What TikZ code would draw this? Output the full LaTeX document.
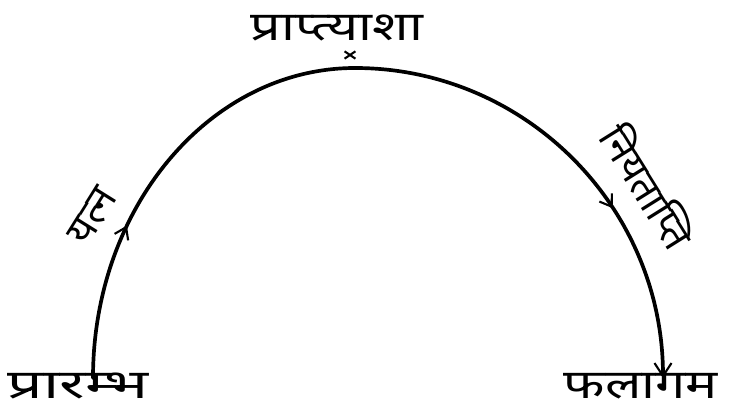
\documentclass[tikz,border=0pt]{standalone}
\usepackage{graphicx}
\usepackage{fontspec}
\newfontfamily\deva[Script=Devanagari]{Noto Sans}
\usetikzlibrary{arrows.meta,decorations.markings,shapes.misc}

\newcommand{\widetext}[2]{\scalebox{#1}[1]{#2}}

\begin{document}
\begin{tikzpicture}[
  stage/.style={font=\deva\fontsize{23}{26}\selectfont, inner sep=1pt},
  path/.style={line width=2.1pt, line cap=round},
  midarrow/.style={postaction={decorate}, decoration={markings,
    mark=at position #1 with {\arrow{Straight Barb[length=2.2mm,width=3mm,line width=1.2pt]}}}}
]
\useasboundingbox (0,0) rectangle (15,8.22);

% arc points
\coordinate (s) at (1.86,0.66);
\coordinate (p) at (7.1,6.86);
\coordinate (e) at (13.26,0.66);

% the five stages
\node (arambha) [stage] at (1.56,0.5) {\widetext{1.55}{प्रारम्भ}};
\node (praptyasha) [stage] at (6.74,7.66) {\widetext{1.33}{प्राप्त्याशा}};
\node (phalagam) [stage] at (12.82,0.5) {\widetext{1.33}{फलागम}};
\node (yatna) [stage, rotate=58] at (1.86,3.9) {यत्न};
\node (niyatapti) [stage, rotate=-58] at (12.98,4.5) {नियताप्ति};

\node (top) [cross out, draw, line width=1.2pt, minimum width=5pt, minimum height=3pt, inner sep=0pt] at (7.0,7.12) {};

\draw [path, midarrow=0.35] (s) .. controls +(0,3.42) and +(-2.89,0) .. (p);
\draw [path, midarrow=0.63, -{Straight Barb[length=2.6mm,width=3.4mm,line width=1.2pt]}]
  (p) .. controls +(3.40,0) and +(0,3.42) .. (e);
\end{tikzpicture}
\end{document}
